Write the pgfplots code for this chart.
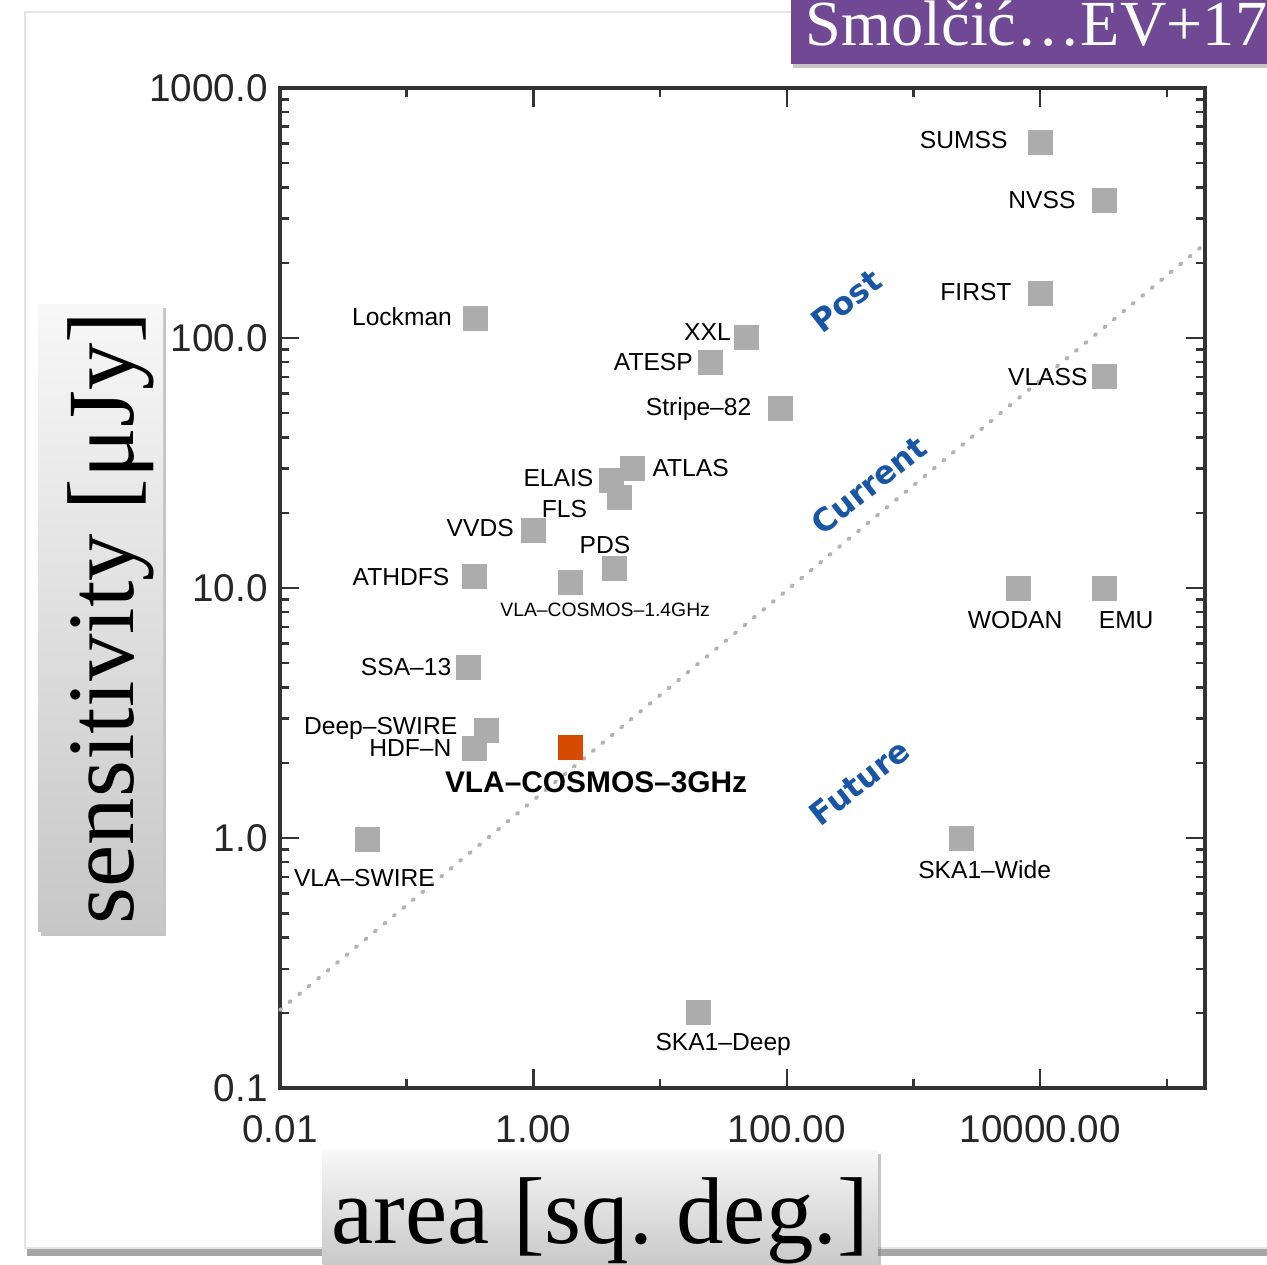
\documentclass[border=0pt]{standalone}
\usepackage{fontspec}
\setmainfont{Liberation Sans}
\newfontfamily\serif{Liberation Serif}
\newfontfamily\djv{DejaVu Sans}
\usepackage{pgfplots}
\pgfplotsset{compat=1.18}
\usetikzlibrary{shadows}
\definecolor{sqgray}{RGB}{172,172,172}
\definecolor{cosmos}{RGB}{214,74,0}
\definecolor{annblue}{RGB}{25,85,165}
\definecolor{slidepurple}{RGB}{112,72,148}
\tikzset{lbl/.style={font=\fontsize{7}{8}\selectfont, inner sep=0pt, text=black},
  ann/.style={rotate=38, font=\djv\bfseries\fontsize{9}{10}\selectfont, text=annblue}}

\pgfplotstableread{
x y
10000 608
32000 356
10000 151
32000 70
6700 10
32000 10
2400 1.0
20 0.2
0.35 120
48 100
25 80
90 52
6.1 30
4.1 27
4.8 23
1.0 17
4.4 12
0.34 11.1
1.95 10.5
0.31 4.8
0.43 2.7
0.34 2.29
0.049 0.99
}\surveys

\pgfplotstableread{
x y
1.95 2.3
}\cosmosthree

\begin{document}
\begin{tikzpicture}
% slide card
\fill[white] (0,0) rectangle (12.67,-12.64);
\fill[black!35] (0.27,-0.16) rectangle (12.9,-12.56);
\fill[white] (0.25,-0.12) rectangle (12.9,-12.48);
\draw[black!10, line width=0.5pt] (0.25,-0.12) rectangle (12.9,-12.48);

\begin{axis}[
  at={(2.80cm,-10.88cm)}, anchor=south west,
  scale only axis, width=9.25cm, height=10cm,
  xmode=log, ymode=log,
  xmin=0.01, xmax=2e5, ymin=0.1, ymax=1000,
  xtick={0.01,1,100,10000},
  xticklabels={0.01,1.00,100.00,10000.00},
  minor xtick={0.1,10,1000,100000},
  ytick={0.1,1,10,100,1000},
  yticklabels={0.1,1.0,10.0,100.0,1000.0},
  minor ytick={0.2,0.3,0.4,0.5,0.6,0.7,0.8,0.9,2,3,4,5,6,7,8,9,20,30,40,50,60,70,80,90,200,300,400,500,600,700,800,900},
  tick align=inside,
  major tick length=0.19cm, minor tick length=0.09cm,
  axis line style={line width=0.9pt, black!80},
  every tick/.style={line width=0.7pt, black!80},
  tick label style={font=\fontsize{11}{12}\selectfont, text=black!85},
  xticklabel style={yshift=-0.15cm},
  clip=false,
  xlabel={area [sq.\ deg.]},
  xlabel style={at={(axis description cs:0.346,-0.122)}, anchor=center,
    font=\serif\fontsize{27}{30}\selectfont,
    top color=white!97!black, bottom color=black!22,
    minimum width=5.55cm, minimum height=1.2cm, inner sep=0pt,
    text height=0.75cm, text depth=0.09cm,
    drop shadow={shadow xshift=0.03cm, shadow yshift=-0.04cm, opacity=0.45}},
  ylabel={sensitivity [μJy]},
  ylabel style={at={(axis description cs:-0.194,0.470)}, anchor=center,
    font=\serif\fontsize{27}{30}\selectfont,
    top color=white!97!black, bottom color=black!22,
    minimum width=6.27cm, minimum height=1.25cm, inner sep=0pt,
    text height=0.75cm, text depth=0.09cm,
    drop shadow={shadow xshift=0.03cm, shadow yshift=-0.04cm, opacity=0.45}},
]
\addplot[black!30, line width=1.1pt, dash pattern=on 0.5pt off 3pt, line cap=round]
  coordinates {(0.01,0.205) (2e5,238)};
\addplot[only marks, color=sqgray, mark=square*, mark size=0.12cm, mark options={draw=sqgray, fill=sqgray, line width=0pt}]
  table[x=x, y=y] {\surveys};
\addplot[only marks, color=cosmos, mark=square*, mark size=0.12cm, mark options={draw=cosmos, fill=cosmos, line width=0pt}]
  table[x=x, y=y] {\cosmosthree};

\node[lbl, anchor=east] at ([xshift=-0.32cm, yshift=0.02cm]axis cs:10000,608) {SUMSS};
\node[lbl, anchor=east] at ([xshift=-0.28cm]axis cs:32000,356) {NVSS};
\node[lbl, anchor=east] at ([xshift=-0.28cm, yshift=0.01cm]axis cs:10000,151) {FIRST};
\node[lbl, anchor=east] at ([xshift=-0.16cm]axis cs:32000,70) {VLASS};
\node[lbl] at ([xshift=-0.03cm, yshift=-0.32cm]axis cs:6700,10) {WODAN};
\node[lbl] at ([xshift=0.22cm, yshift=-0.32cm]axis cs:32000,10) {EMU};
\node[lbl] at ([xshift=0.23cm, yshift=-0.32cm]axis cs:2400,1.0) {SKA1--Wide};
\node[lbl] at ([xshift=0.25cm, yshift=-0.32cm]axis cs:20,0.2) {SKA1--Deep};
\node[lbl, anchor=east] at ([xshift=-0.23cm, yshift=0.01cm]axis cs:0.35,120) {Lockman};
\node[lbl, anchor=east] at ([xshift=-0.15cm, yshift=0.06cm]axis cs:48,100) {XXL};
\node[lbl, anchor=east] at ([xshift=-0.17cm]axis cs:25,80) {ATESP};
\node[lbl, anchor=east] at ([xshift=-0.29cm]axis cs:90,52) {Stripe--82};
\node[lbl, anchor=west] at ([xshift=0.19cm, yshift=0.01cm]axis cs:6.1,30) {ATLAS};
\node[lbl, anchor=east] at ([xshift=-0.17cm, yshift=0.02cm]axis cs:4.1,27) {ELAIS};
\node[lbl, anchor=east] at ([xshift=-0.32cm, yshift=-0.11cm]axis cs:4.8,23) {FLS};
\node[lbl, anchor=east] at ([xshift=-0.19cm, yshift=0.02cm]axis cs:1.0,17) {VVDS};
\node[lbl] at ([xshift=-0.10cm, yshift=0.23cm]axis cs:4.4,12) {PDS};
\node[lbl, anchor=east] at ([xshift=-0.24cm]axis cs:0.34,11.1) {ATHDFS};
\node[lbl, font=\fontsize{5.5}{6}\selectfont] at ([xshift=0.35cm, yshift=-0.27cm]axis cs:1.95,10.5) {VLA--COSMOS--1.4GHz};
\node[lbl, anchor=east] at ([xshift=-0.17cm, yshift=0.01cm]axis cs:0.31,4.8) {SSA--13};
\node[lbl, anchor=east] at ([xshift=-0.29cm, yshift=0.02cm]axis cs:0.43,2.7) {Deep--SWIRE};
\node[lbl, anchor=east] at ([xshift=-0.22cm]axis cs:0.34,2.29) {HDF--N};
\node[lbl, font=\bfseries\fontsize{8.5}{9}\selectfont] at ([xshift=0.26cm, yshift=-0.35cm]axis cs:1.95,2.3) {VLA--COSMOS--3GHz};
\node[lbl] at ([xshift=-0.03cm, yshift=-0.39cm]axis cs:0.049,0.99) {VLA--SWIRE};

\node[ann] at (axis cs:296,140.6) {Post};
\node[ann] at (axis cs:443,25.8) {Current};
\node[ann] at (axis cs:376,1.675) {Future};
\end{axis}

% title tag
\node[fill=slidepurple, anchor=north west, minimum height=0.68cm, minimum width=5.2cm, inner sep=0pt,
  drop shadow={shadow xshift=0.02cm, shadow yshift=-0.04cm, opacity=0.45}] at (7.90,0.05) {};
\node[anchor=base west, inner sep=0pt, text=white, font=\serif\fontsize{18.3}{20}\selectfont] at (8.05,-0.45) {Smolčić…EV+17a};
\pgfresetboundingbox
\path[use as bounding box] (0,0) rectangle (12.67,-12.64);
\end{tikzpicture}
\end{document}
